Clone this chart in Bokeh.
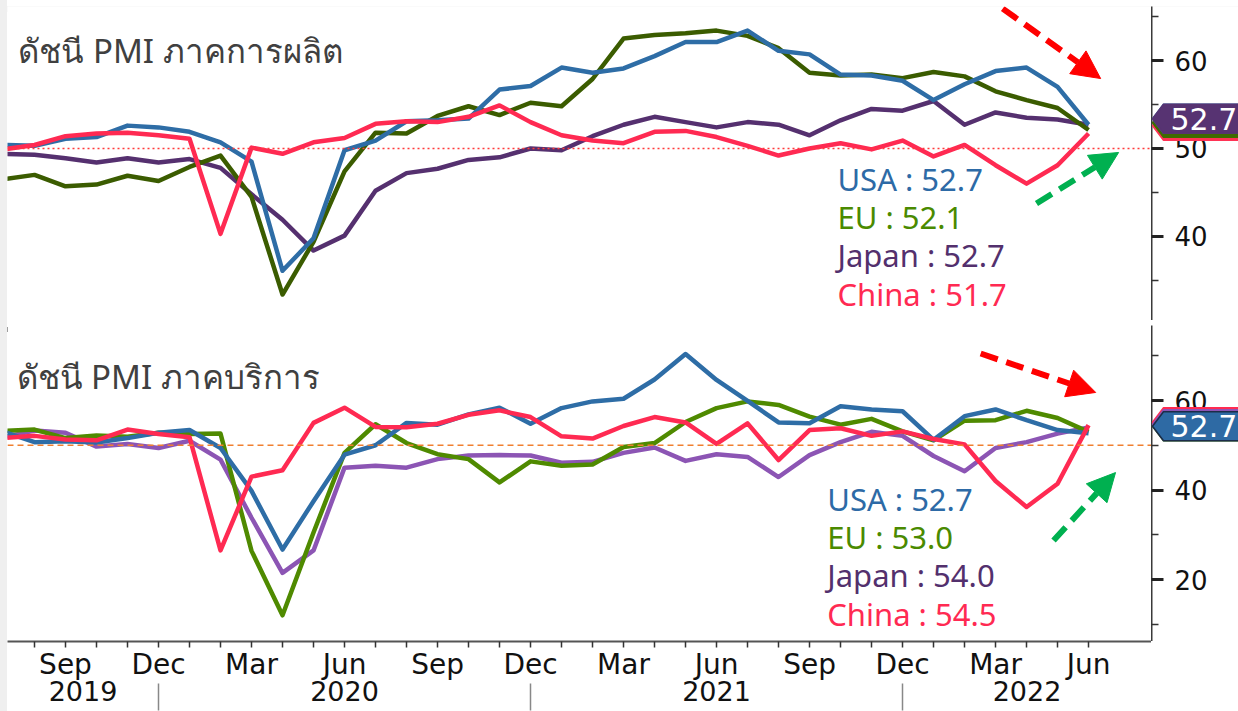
from bokeh.plotting import figure
from bokeh.layouts import column, row
from bokeh.models import (ColumnDataSource, FixedTicker, LinearAxis, Range1d, Span,
                          Label, Arrow, NormalHead, Div)
from bokeh.core.properties import value
from bokeh.embed import file_html
from bokeh.resources import INLINE

# ---------------- data ----------------
months = ["Jul 2019", "Aug 2019", "Sep 2019", "Oct 2019", "Nov 2019", "Dec 2019",
          "Jan 2020", "Feb 2020", "Mar 2020", "Apr 2020", "May 2020", "Jun 2020",
          "Jul 2020", "Aug 2020", "Sep 2020", "Oct 2020", "Nov 2020", "Dec 2020",
          "Jan 2021", "Feb 2021", "Mar 2021", "Apr 2021", "May 2021", "Jun 2021",
          "Jul 2021", "Aug 2021", "Sep 2021", "Oct 2021", "Nov 2021", "Dec 2021",
          "Jan 2022", "Feb 2022", "Mar 2022", "Apr 2022", "May 2022", "Jun 2022"]
series_names = ["USA", "EU", "Japan", "China"]

mfg_usa = [50.4, 50.3, 51.1, 51.3, 52.6, 52.4, 51.9, 50.7, 48.5, 36.1, 39.8, 49.8,
           50.9, 53.1, 53.2, 53.4, 56.7, 57.1, 59.2, 58.6, 59.1, 60.5, 62.1, 62.1,
           63.4, 61.1, 60.7, 58.4, 58.3, 57.7, 55.5, 57.3, 58.8, 59.2, 57.0, 52.7]
mfg_eu = [46.5, 47.0, 45.7, 45.9, 46.9, 46.3, 47.9, 49.2, 44.5, 33.4, 39.4, 47.4,
          51.8, 51.7, 53.7, 54.8, 53.8, 55.2, 54.8, 57.9, 62.5, 62.9, 63.1, 63.4,
          62.8, 61.4, 58.6, 58.3, 58.4, 58.0, 58.7, 58.2, 56.5, 55.5, 54.6, 52.1]
mfg_japan = [49.4, 49.3, 48.9, 48.4, 48.9, 48.4, 48.8, 47.8, 44.8, 41.9, 38.4, 40.1,
             45.2, 47.2, 47.7, 48.7, 49.0, 50.0, 49.8, 51.4, 52.7, 53.6, 53.0, 52.4,
             53.0, 52.7, 51.5, 53.2, 54.5, 54.3, 55.4, 52.7, 54.1, 53.5, 53.3, 52.7]
mfg_china = [49.9, 50.4, 51.4, 51.7, 51.8, 51.5, 51.1, 40.3, 50.1, 49.4, 50.7, 51.2,
             52.8, 53.1, 53.0, 53.6, 54.9, 53.0, 51.5, 50.9, 50.6, 51.9, 52.0, 51.3,
             50.3, 49.2, 50.0, 50.6, 49.9, 50.9, 49.1, 50.4, 48.1, 46.0, 48.1, 51.7]

svc_usa = [53.0, 50.7, 50.9, 50.6, 51.6, 52.8, 53.4, 49.4, 39.8, 26.7, 37.5, 47.9,
           50.0, 55.0, 54.6, 56.9, 58.4, 54.8, 58.3, 59.8, 60.4, 64.7, 70.4, 64.6,
           59.9, 55.1, 54.9, 58.7, 58.0, 57.6, 51.2, 56.5, 58.0, 55.6, 53.4, 52.7]
svc_eu = [53.2, 53.5, 51.6, 52.2, 51.9, 52.8, 52.5, 52.6, 26.4, 12.0, 30.5, 48.3,
          54.7, 50.5, 48.0, 46.9, 41.7, 46.4, 45.4, 45.7, 49.6, 50.5, 55.2, 58.3,
          59.8, 59.0, 56.4, 54.6, 55.9, 53.1, 51.1, 55.5, 55.6, 57.7, 56.1, 53.0]
svc_japan = [51.8, 53.3, 52.8, 49.7, 50.3, 49.4, 51.0, 46.8, 33.8, 21.5, 26.5, 45.0,
             45.4, 45.0, 46.9, 47.7, 47.8, 47.7, 46.1, 46.3, 48.3, 49.5, 46.5, 48.0,
             47.4, 42.9, 47.8, 50.7, 53.0, 52.1, 47.6, 44.2, 49.4, 50.7, 52.6, 54.0]
svc_china = [51.6, 52.1, 51.3, 51.1, 53.5, 52.5, 51.8, 26.5, 43.0, 44.4, 55.0, 58.4,
             54.1, 54.0, 54.8, 56.8, 57.8, 56.3, 52.0, 51.5, 54.3, 56.3, 55.1, 50.3,
             54.9, 46.7, 53.4, 53.8, 52.1, 53.1, 51.4, 50.2, 42.0, 36.2, 41.4, 54.5]

panel_titles = ["ดัชนี PMI ภาคการผลิต", "ดัชนี PMI ภาคบริการ"]
quarter_months = ["Sep", "Dec", "Mar", "Jun"]
year_labels = ["2019", "2020", "2021", "2022"]

# ---------------- layout constants ----------------
LEFT_STRIP = 7
TOP_STRIP = 6
MAIN_W = 1144
SIDE_W = 87
X0, X1 = 0.129, 37.03
PX_PER_MONTH = MAIN_W / (X1 - X0)
idx = list(range(len(months)))

TOP_FH = 314
TOP_Y = Range1d(30.45, 66.14)
BOT_FH = 316
BOT_Y = Range1d(6.15, 76.76)
top_ppu = TOP_FH / (TOP_Y.end - TOP_Y.start)
bot_ppu = BOT_FH / (BOT_Y.end - BOT_Y.start)

top_colors = {"USA": "#2e6da6", "EU": "#3b5c00", "Japan": "#55306f", "China": "#ff2a52"}
bot_colors = {"USA": "#2e6da6", "EU": "#4f8a00", "Japan": "#8c55b4", "China": "#ff2a52"}
text_colors = {"USA": "#2d6aa6", "EU": "#4a8a00", "Japan": "#53306d", "China": "#ff2a52"}
draw_order = ["Japan", "EU", "USA", "China"]


def main_fig(fh, yr, with_x):
    p = figure(frame_width=MAIN_W, frame_height=fh, x_range=Range1d(X0, X1), y_range=yr,
               output_backend="svg", toolbar_location=None,
               y_axis_location=None, x_axis_location="below" if with_x else None,
               min_border=0)
    p.grid.visible = False
    p.outline_line_color = None
    p.background_fill_color = "white"
    p.border_fill_color = "white"
    return p


def side_fig(fh, yr, majors, minors):
    s = figure(frame_width=SIDE_W, frame_height=fh, x_range=Range1d(0, SIDE_W), y_range=yr,
               output_backend="svg", toolbar_location=None,
               y_axis_location="left", x_axis_location=None, min_border=0)
    s.grid.visible = False
    s.outline_line_color = None
    s.background_fill_color = "white"
    s.border_fill_color = "white"
    ya = s.yaxis[0]
    ya.ticker = FixedTicker(ticks=majors, minor_ticks=minors)
    ya.axis_line_color = "#3a3a3a"
    ya.axis_line_width = 2
    ya.major_tick_out = 0
    ya.major_tick_in = 12
    ya.major_tick_line_width = 3
    ya.major_tick_line_color = "#222222"
    ya.minor_tick_out = 0
    ya.minor_tick_in = 7
    ya.minor_tick_line_width = 1.5
    ya.minor_tick_line_color = "#333333"
    ya.major_label_text_font = "DejaVu Sans"
    ya.major_label_text_font_size = "26px"
    ya.major_label_text_color = "#111111"
    ya.major_label_standoff = -56
    return s


def draw_lines(p, data, colors):
    src = ColumnDataSource(dict(x=idx, **{n: v for n, v in zip(series_names, data)}))
    for n in draw_order:
        p.line("x", n, source=src, line_color=colors[n], line_width=4.5, line_join="round")


def add_title(p, text, x, y):
    p.add_layout(Label(x=x, y=y, text=text, text_font="Noto Sans", text_font_size="33px",
                       text_color="#404040", text_baseline="alphabetic"))


def add_legend(p, data, x, y0, step):
    for i, (n, v) in enumerate(zip(series_names, data)):
        p.add_layout(Label(x=x, y=y0 - i * step, text=f"{n} : {v[-1]:.1f}",
                           text_font="Noto Sans", text_font_size="31px",
                           text_color=text_colors[n], text_baseline="alphabetic"))


def add_tag(s, yc, ppu, color, border, text=None):
    h = 14.5 / ppu
    r = s.patch(x=[1, 12, SIDE_W + 5, SIDE_W + 5, 12], y=[yc, yc + h, yc + h, yc - h, yc - h],
                fill_color=color, line_color=border, line_width=1.5)
    r.level = "overlay"
    if text:
        t = s.text(x=[19], y=[yc], text=[text], text_color="white",
                   text_font=value("DejaVu Sans"), text_font_size="30px",
                   text_baseline="middle", text_align="left")
        t.level = "overlay"


def add_arrow(p, xs, ys, xe, ye, color):
    p.add_layout(Arrow(end=NormalHead(size=28, fill_color=color, line_color=color, line_width=1),
                       x_start=xs, y_start=ys, x_end=xe, y_end=ye,
                       line_color=color, line_width=6, line_dash="18 9"))


# ---------------- top panel: manufacturing ----------------
p1 = main_fig(TOP_FH, TOP_Y, False)
p1.add_layout(Span(location=50, dimension="width", line_color="#ff3b3b",
                   line_dash="2 3", line_width=1.5))
mfg = [mfg_usa, mfg_eu, mfg_japan, mfg_china]
draw_lines(p1, mfg, top_colors)
add_title(p1, panel_titles[0], 0.48, 61.13)
add_legend(p1, mfg, 26.9, 46.59, 38.4 / top_ppu)
add_arrow(p1, 32.23, 65.9, 35.39, 57.95, "#ff0000")
add_arrow(p1, 33.32, 43.75, 35.97, 49.55, "#00b050")

s1 = side_fig(TOP_FH, TOP_Y, [40, 50, 60], [35, 45, 55, 65])
front = mfg_japan[-1] + 6 / top_ppu
add_tag(s1, front - 7 / top_ppu, top_ppu, "#ff3355", "#ff3355")
add_tag(s1, front - 4 / top_ppu, top_ppu, "#3f6b00", "#3f6b00")
add_tag(s1, front, top_ppu, "#2e6da6", "#2e6da6")
add_tag(s1, front, top_ppu, "#573372", "#573372", f"{mfg_japan[-1]:.1f}")

# ---------------- bottom panel: services ----------------
p2 = main_fig(BOT_FH, BOT_Y, True)
p2.min_border_bottom = 70
p2.add_layout(Span(location=50, dimension="width", line_color="#f08030",
                   line_dash="6 4", line_width=1.5))
svc = [svc_usa, svc_eu, svc_japan, svc_china]
draw_lines(p2, svc, bot_colors)

xa = p2.xaxis[0]
xa.ticker = FixedTicker(ticks=idx)
xa.major_label_overrides = {i: (m.split()[0] if m.split()[0] in quarter_months else "")
                            for i, m in enumerate(months)}
xa.axis_line_color = "#555555"
xa.axis_line_width = 2
xa.major_tick_out = 6
xa.major_tick_in = 0
xa.major_tick_line_color = "#333333"
xa.major_tick_line_width = 1.5
xa.minor_tick_line_color = None
xa.major_label_text_font = "DejaVu Sans"
xa.major_label_text_font_size = "28px"
xa.major_label_text_color = "#111111"
xa.major_label_standoff = 0

dec_pos = [i for i, m in enumerate(months) if m.startswith("Dec")]
bounds = [X0] + dec_pos + [X1]
centers = [(bounds[k] + bounds[k + 1]) / 2 for k in range(len(year_labels))]
year_axis = LinearAxis(ticker=FixedTicker(ticks=centers, minor_ticks=dec_pos),
                       major_label_overrides={c: y for c, y in zip(centers, year_labels)},
                       axis_line_color=None, major_tick_line_color=None,
                       major_tick_out=0, major_tick_in=0,
                       minor_tick_out=27, minor_tick_in=0,
                       minor_tick_line_color="#888888", minor_tick_line_width=1.5,
                       major_label_text_font="DejaVu Sans",
                       major_label_text_font_size="27px",
                       major_label_text_color="#111111",
                       major_label_standoff=-30)
p2.add_layout(year_axis, "below")

add_title(p2, panel_titles[1], 0.42, 65.28)
add_legend(p2, svc, 26.57, 38.1, 38.4 / bot_ppu)
add_arrow(p2, 31.52, 70.5, 35.23, 61.8, "#ff0000")
add_arrow(p2, 33.87, 28.7, 35.87, 43.9, "#00b050")

s2 = side_fig(BOT_FH, BOT_Y, [20, 40, 60], [10, 30, 50, 70])
front2 = svc_usa[-1] + 7 / bot_ppu
add_tag(s2, front2, bot_ppu, "#3d7a12", "#3d7a12")
add_tag(s2, front2 + 4 / bot_ppu, bot_ppu, "#ff2a52", "#ff2a52")
add_tag(s2, front2 + 2 / bot_ppu, bot_ppu, "#8c55b4", "#8c55b4")
add_tag(s2, front2, bot_ppu, "#2e6aa4", "#1c2c48", f"{svc_usa[-1]:.1f}")

# ---------------- page furniture ----------------
TOTAL_W = MAIN_W + SIDE_W
left_strip = Div(text=f'<div style="width:{LEFT_STRIP}px;height:711px;background:#efefef;"></div>',
                 width=LEFT_STRIP, height=711, margin=0)
top_strip = Div(text=f'<div style="width:{TOTAL_W}px;height:{TOP_STRIP}px;background:#f4f4f4;"></div>',
                width=TOTAL_W, height=TOP_STRIP, margin=0)
sep = Div(text=f'<div style="width:{TOTAL_W}px;height:5px;background:#3c3c3c;position:relative;">'
               '<div style="position:absolute;left:605px;top:1px;width:26px;height:3px;'
               'background:#a0a0a0;"></div></div>',
          width=TOTAL_W, height=5, margin=0)

layout = row(left_strip,
             column(top_strip, row(p1, s1, spacing=0), sep, row(p2, s2, spacing=0), spacing=0),
             spacing=0)
open("out.html", "w").write(file_html(layout, INLINE))
